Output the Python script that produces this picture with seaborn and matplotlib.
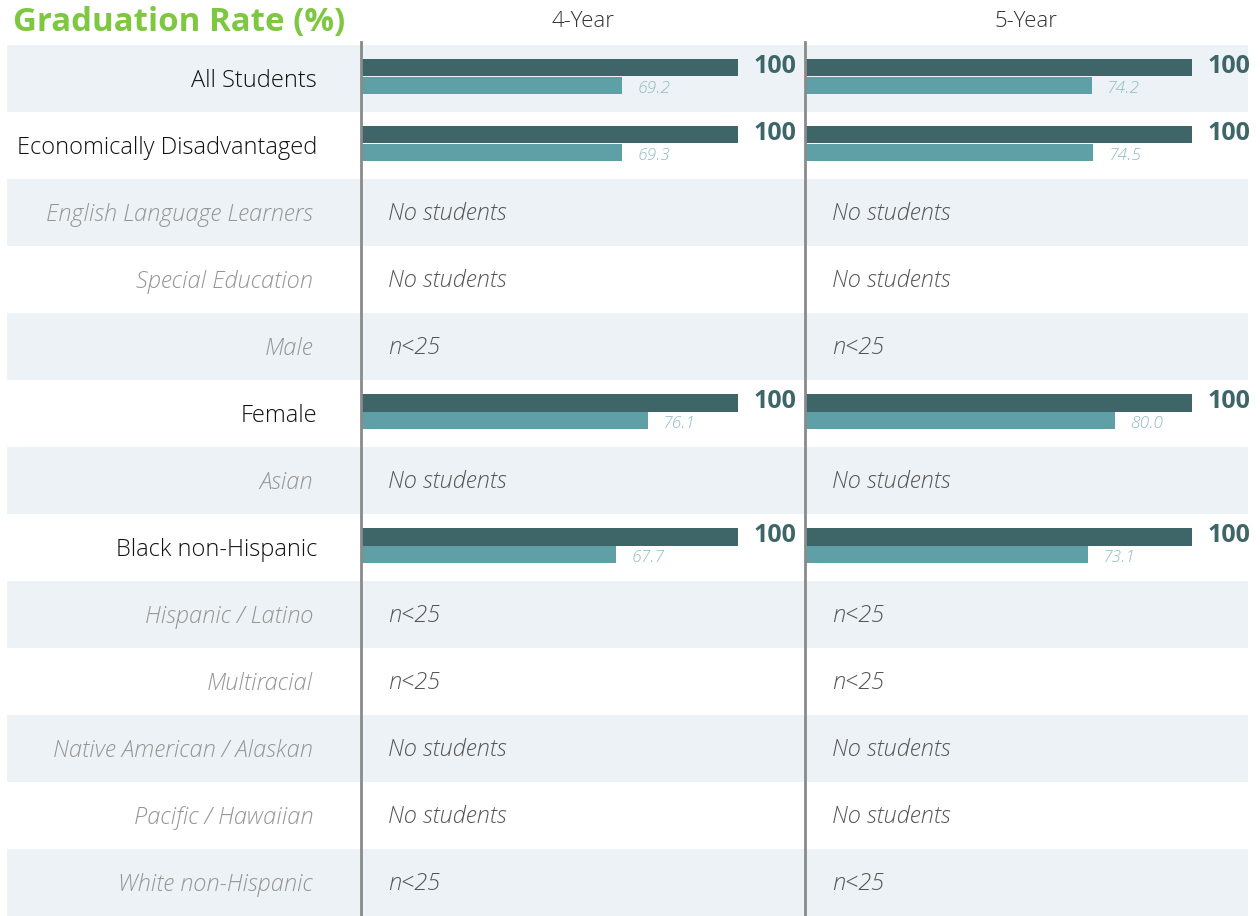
import numpy as np
import pandas as pd
import matplotlib
matplotlib.use("Agg")
import matplotlib.pyplot as plt
import seaborn as sns

# ---------------- data ----------------
categories = ["All Students", "Economically Disadvantaged", "English Language Learners",
              "Special Education", "Male", "Female", "Asian", "Black non-Hispanic",
              "Hispanic / Latino", "Multiracial", "Native American / Alaskan",
              "Pacific / Hawaiian", "White non-Hispanic"]
status = ["", "", "No students", "No students", "n<25", "", "No students", "",
          "n<25", "n<25", "No students", "No students", "n<25"]
periods = ["4-Year", "5-Year"]
series_names = ["School", "Comparison"]
school_4yr = [100, 100, None, None, None, 100, None, 100, None, None, None, None, None]
comp_4yr = [69.2, 69.3, None, None, None, 76.1, None, 67.7, None, None, None, None, None]
school_5yr = [100, 100, None, None, None, 100, None, 100, None, None, None, None, None]
comp_5yr = [74.2, 74.5, None, None, None, 80.0, None, 73.1, None, None, None, None, None]

values = {"4-Year": (school_4yr, comp_4yr), "5-Year": (school_5yr, comp_5yr)}

# ---------------- style ----------------
sns.set_theme(style="white")
plt.rcParams["font.family"] = ["Open Sans", "DejaVu Sans"]

DARK = "#3e6568"
LIGHT = "#5fa0a7"
LIGHT_TXT = "#8cbcc2"
BAND = "#edf2f6"
GREY_TXT = "#959595"
LINE = "#8a8a8a"

W, H = 1260, 916
fig = plt.figure(figsize=(W / 100, H / 100), dpi=100)

top_px = 45
row_h = 67.0
n = len(categories)

# background axes: x in pixels, y in row units
bg = fig.add_axes([0, 0, 1, 1])
bg.set_xlim(0, W)
y_top = (0 - (top_px + row_h / 2)) / row_h
bg.set_ylim(n - 0.5, y_top)
bg.axis("off")
for i, cat in enumerate(categories):
    if i % 2 == 0:
        bg.fill_between([7, 1248], i - 0.5, i + 0.5, color=BAND, lw=0, zorder=0)
    active = status[i] == ""
    bg.annotate(cat, xy=(317 if active else 313, i), xytext=(0, -2),
                textcoords="offset points",
                ha="right", va="center", fontsize=17,
                color="#111111" if active else GREY_TXT,
                style="normal" if active else "italic",
                fontweight="light")

fig.text(13 / W, 1 - 23 / H, "Graduation Rate (%)", ha="left", va="center",
         fontsize=23.8, fontweight="bold", color="#7dc741")

panels = [(361, 805, 117.8), (805, 1248, 114.5)]
for (x0, x1, xmax), period in zip(panels, periods):
    ax = fig.add_axes([x0 / W, 2 / H, (x1 - x0) / W, (H - top_px) / H])
    ax.patch.set_alpha(0)
    sch, cmp_ = values[period]
    rows = []
    for cat, s, c in zip(categories, sch, cmp_):
        if s is not None:
            rows.append({"cat": cat, "series": series_names[0], "val": s})
            rows.append({"cat": cat, "series": series_names[1], "val": c})
    df = pd.DataFrame(rows)
    sns.barplot(data=df, y="cat", x="val", hue="series", order=categories,
                hue_order=series_names, palette=[DARK, LIGHT], orient="h",
                width=0.51, ax=ax, legend=False, errorbar=None, saturation=1,
                linewidth=0)
    ax.set_xlim(0, xmax)
    ax.set_ylim(n - 0.5, -0.5)
    ax.set_xlabel("")
    ax.set_ylabel("")
    ax.set_xticks([])
    ax.set_yticks([])
    for sp in ["top", "right", "bottom"]:
        ax.spines[sp].set_visible(False)
    ax.spines["left"].set_color(LINE)
    ax.spines["left"].set_linewidth(2)
    ax.spines["left"].set_bounds(n - 0.5 + 0.05, -0.52)

    for i, (s, c) in enumerate(zip(sch, cmp_)):
        if s is None:
            ax.annotate(status[i], xy=(0, i), xytext=(19.5, -2.5), textcoords="offset points",
                        ha="left", va="center", fontsize=17, style="italic",
                        fontweight="light", color="#555555")
            continue
        ax.annotate(f"{s:.0f}", xy=(s, i), xytext=(42, 7.5), textcoords="offset points",
                    ha="right", va="center", fontsize=18, fontweight="bold", color=DARK)
        ax.annotate(f"{c:.1f}", xy=(c, i), xytext=(11, -9), textcoords="offset points",
                    ha="left", va="center", fontsize=12.5, style="italic",
                    fontweight="light", color=LIGHT_TXT)

    ax.annotate(period, xy=(0.5, 1), xycoords="axes fraction", xytext=(0, 15.5),
                textcoords="offset points", ha="center", va="center", fontsize=16,
                fontweight="light", color="#333333", annotation_clip=False)

fig.savefig("out.png", dpi=100)
